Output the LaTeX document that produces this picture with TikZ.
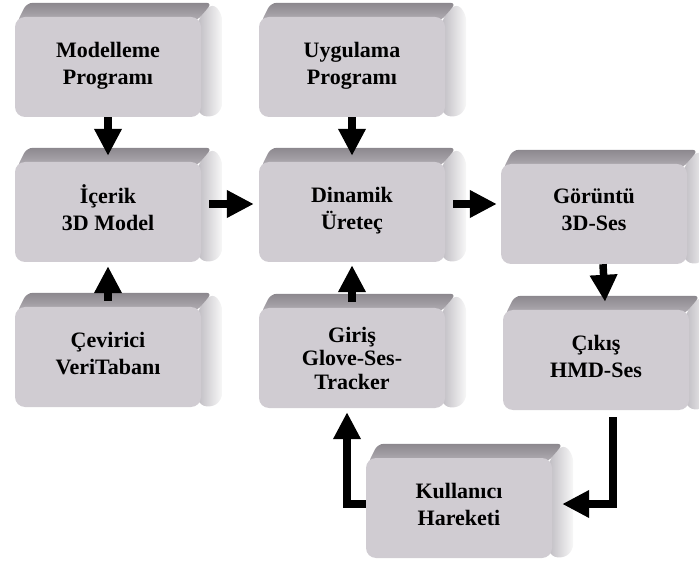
\documentclass[tikz,border=0pt]{standalone}
\usepackage{fontspec}
\setmainfont{Liberation Serif}
\usepackage{tikz}
\usetikzlibrary{arrows.meta,backgrounds,calc}
\definecolor{faceGray}{RGB}{208,204,210}
\definecolor{topDark}{RGB}{140,136,142}
\definecolor{topLight}{RGB}{182,178,184}
\definecolor{sideDark}{RGB}{190,187,193}
\definecolor{sideLight}{RGB}{248,248,248}

\tikzset{
  box/.style={fill=faceGray, rounded corners=10pt, minimum width=186pt, minimum height=100pt,
    inner sep=0pt, align=center, font=\fontsize{22}{27}\selectfont\bfseries},
  arr/.style={line width=7.5pt, -{Triangle[length=27pt,width=26pt]}},
}
\newcommand{\bevelfaces}[1]{%
  \shade[left color=sideDark, right color=sideLight, rounded corners=7pt]
    ([shift={(-4pt,-4pt)}]#1.north east) -- ([shift={(11pt,14pt)}]#1.north east)
    -- ([shift={(21pt,3pt)}]#1.north east) -- ([shift={(21pt,7pt)}]#1.south east)
    -- ([shift={(9pt,-1pt)}]#1.south east) -- ([shift={(-4pt,4pt)}]#1.south east) -- cycle;
  \shade[top color=topDark, bottom color=topLight, rounded corners=6pt]
    ([shift={(2pt,-6pt)}]#1.north west) -- ([shift={(12pt,14pt)}]#1.north west)
    -- ([shift={(11pt,14pt)}]#1.north east) -- ([shift={(-4pt,-4pt)}]#1.north east) -- cycle;
}

\begin{document}
\begin{tikzpicture}[x=1pt,y=-1pt]
  \useasboundingbox (0,0) rectangle (699,561);

  \node[box] (modell) at (108,67) {Modelleme\\Programı\\[-19pt]\mbox{}};
  \node[box] (uygul) at (352,67) {Uygulama\\Programı\\[-19pt]\mbox{}};
  \node[box] (icerik) at (108,212) {İçerik\\3D Model\\[-19pt]\mbox{}};
  \node[box] (dinamik) at (352,212) {Dinamik\\Üreteç\\[-19pt]\mbox{}};
  \node[box] (goruntu) at (594,214) {Görüntü\\3D-Ses\\[-19pt]\mbox{}};
  \node[box] (cevirici) at (108,357) {Çevirici\\VeriTabanı\\[-19pt]\mbox{}};
  \node[box, font=\fontsize{22}{23.5}\selectfont\bfseries] (giris) at (352,358) {Giriş\\Glove-Ses-\\Tracker};
  \node[box] (cikis) at (596,360) {Çıkış\\HMD-Ses\\[-19pt]\mbox{}};
  \node[box] (kullanici) at (459,508) {Kullanıcı\\Hareketi\\[-19pt]\mbox{}};

  \begin{scope}[on background layer]
    \foreach \b in {modell,uygul,icerik,dinamik,goruntu,cevirici,giris,cikis,kullanici}
      {\bevelfaces{\b}}
  \end{scope}

  \draw[arr] (modell.south) -- ([yshift=6pt]icerik.north);
  \draw[arr] (uygul.south) -- ([yshift=6pt]dinamik.north);
  \draw[arr] ([yshift=6pt]cevirici.north) -- ([yshift=-4pt]icerik.south);
  \draw[arr] ([yshift=6pt]giris.north) -- ([yshift=-3pt]dinamik.south);
  \draw[arr] ([shift={(8pt,8pt)}]icerik.east) -- ([shift={(-5pt,8pt)}]dinamik.west);
  \draw[arr] ([shift={(8pt,8pt)}]dinamik.east) -- ([shift={(-4pt,10pt)}]goruntu.west);
  \draw[arr] ([xshift=9pt]goruntu.south) -- ([shift={(9pt,8pt)}]cikis.north);
  \draw[arr] ([shift={(17pt,-7pt)}]cikis.south) |- ([shift={(10pt,4pt)}]kullanici.east);
  \draw[arr] ([yshift=4pt]kullanici.west) -| ([shift={(-5pt,-4pt)}]giris.south);
\end{tikzpicture}
\end{document}
